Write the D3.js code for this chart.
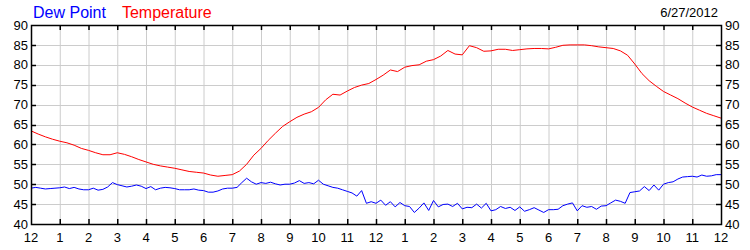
<!DOCTYPE html>
<html>
  <head>
    <meta charset="utf-8" />
    <title>Dew Point / Temperature</title>
    <style>
      body {
        margin: 0;
        background: #fff;
      }
      svg text {
        font-family: "Liberation Sans", Arial, sans-serif;
      }
    </style>
    <script src="https://d3js.org/d3.v7.min.js"></script>
  </head>
  <body>
    <div id="chart"></div>
    <script>
      // hour labels along the bottom, midnight to midnight
      var hourLabels = ["12","1","2","3","4","5","6","7","8","9","10","11","12","1","2","3","4","5","6","7","8","9","10","11","12"];
      var yTicks = [40, 45, 50, 55, 60, 65, 70, 75, 80, 85, 90];
      var dateLabel = "6/27/2012";

      // temperature, one reading every 15 minutes (hours 0..24)
      var tempValues = [
        63.4, 62.6, 61.9, 61.3, 60.8, 60.4, 59.8, 59.0,
        58.5, 57.9, 57.4, 57.4, 57.9, 57.5, 56.9, 56.2,
        55.6, 55.0, 54.6, 54.3, 54.0, 53.6, 53.2, 53.0,
        52.8, 52.3, 52.0, 52.2, 52.4, 53.3, 55.0, 57.3,
        59.0, 61.0, 62.8, 64.5, 65.7, 66.8, 67.6, 68.2,
        69.3, 71.2, 72.6, 72.4, 73.4, 74.3, 74.9, 75.3,
        76.3, 77.4, 78.7, 78.3, 79.4, 79.8, 80.0, 80.9,
        81.3, 82.2, 83.6, 82.7, 82.5, 84.8, 84.3, 83.4,
        83.5, 83.9, 83.9, 83.6, 83.8, 84.0, 84.1, 84.1,
        84.0, 84.4, 84.9, 85.0, 85.0, 85.0, 84.8, 84.5,
        84.3, 84.1, 83.5, 82.4, 80.2, 77.8, 76.0, 74.6,
        73.3, 72.4, 71.5, 70.4, 69.4, 68.6, 67.8, 67.2,
        66.6
      ];

      // dew point, one reading every 10 minutes (hours 0..24)
      var dewValues = [
        49.0, 49.2, 49.0, 48.8, 48.9, 49.0,
        49.1, 49.3, 48.9, 49.2, 48.8, 48.6,
        48.6, 49.0, 48.5, 48.7, 49.3, 50.4,
        49.9, 49.6, 49.3, 49.5, 49.8, 49.5,
        48.9, 49.4, 48.6, 49.0, 49.2, 49.1,
        48.9, 48.6, 48.6, 48.6, 48.8, 48.5,
        48.4, 48.0, 48.0, 48.3, 48.8, 49.0,
        49.0, 49.2, 50.4, 51.5, 50.6, 50.0,
        50.4, 50.2, 50.5, 50.1, 49.8, 50.0,
        50.0, 50.3, 50.9, 50.2, 50.4, 50.1,
        51.0, 50.0, 49.6, 49.2, 49.0, 48.6,
        48.2, 47.8, 47.0, 48.4, 45.2, 45.6,
        45.2, 46.0, 44.7, 45.6, 44.3, 45.4,
        44.6, 44.4, 42.9, 44.0, 45.3, 43.4,
        45.9, 44.3, 44.9, 45.0, 44.4, 45.2,
        43.8, 44.2, 44.1, 45.0, 44.0, 45.2,
        43.3, 43.6, 44.4, 43.9, 44.2, 43.4,
        44.3, 43.2, 43.6, 44.1, 43.5, 42.9,
        43.6, 43.6, 43.7, 44.6, 45.0, 45.3,
        43.3, 44.6, 44.2, 44.4, 43.7, 44.5,
        44.6, 45.3, 46.0, 45.7, 45.2, 47.9,
        48.1, 48.3, 49.4, 48.4, 49.8, 48.5,
        50.0, 50.4, 50.6, 51.3, 51.8, 51.9,
        52.0, 51.8, 52.3, 52.0, 52.1, 52.4,
        52.4
      ];

      var width = 750, height = 250;
      var margin = {top: 25, right: 29, bottom: 26, left: 31};
      var plotW = width - margin.left - margin.right;
      var plotH = height - margin.top - margin.bottom;

      var svg = d3.select("#chart").append("svg")
        .attr("width", width)
        .attr("height", height);

      var x = d3.scaleLinear().domain([0, 24]).range([margin.left, margin.left + plotW]);
      var y = d3.scaleLinear().domain([40, 90]).range([margin.top + plotH, margin.top]);

      var hours = d3.range(0, 25);

      // grid
      svg.append("g").selectAll("line.vg")
        .data(hours.slice(1, -1)).enter().append("line")
        .attr("x1", d => x(d) + 0.5).attr("x2", d => x(d) + 0.5)
        .attr("y1", margin.top).attr("y2", margin.top + plotH)
        .attr("stroke", "#cccccc");
      svg.append("g").selectAll("line.hg")
        .data(yTicks.slice(1, -1)).enter().append("line")
        .attr("x1", margin.left).attr("x2", margin.left + plotW)
        .attr("y1", d => Math.round(y(d)) + 0.5).attr("y2", d => Math.round(y(d)) + 0.5)
        .attr("stroke", "#cccccc");

      // series
      var tempLine = d3.line().x((d, i) => x(i / 4)).y(d => y(d));
      var dewLine = d3.line().x((d, i) => x(i / 6)).y(d => y(d));

      svg.append("path").datum(dewValues)
        .attr("d", dewLine).attr("fill", "none")
        .attr("stroke", "#0000ff").attr("stroke-width", 1);
      svg.append("path").datum(tempValues)
        .attr("d", tempLine).attr("fill", "none")
        .attr("stroke", "#ff0000").attr("stroke-width", 1);

      // frame with inward ticks
      svg.append("rect")
        .attr("x", margin.left + 0.5).attr("y", margin.top + 0.5)
        .attr("width", plotW).attr("height", plotH)
        .attr("fill", "none").attr("stroke", "#000").attr("stroke-width", 1.5);

      var tickLen = 5;
      var ticks = svg.append("g").attr("stroke", "#000").attr("stroke-width", 1.5);
      ticks.selectAll("line.tt").data(hours.slice(1, -1)).enter().append("line")
        .attr("x1", d => x(d) + 0.5).attr("x2", d => x(d) + 0.5)
        .attr("y1", margin.top).attr("y2", margin.top + tickLen);
      ticks.selectAll("line.bt").data(hours.slice(1, -1)).enter().append("line")
        .attr("x1", d => x(d) + 0.5).attr("x2", d => x(d) + 0.5)
        .attr("y1", margin.top + plotH).attr("y2", margin.top + plotH - tickLen);
      ticks.selectAll("line.lt").data(yTicks.slice(1, -1)).enter().append("line")
        .attr("x1", margin.left).attr("x2", margin.left + tickLen)
        .attr("y1", d => Math.round(y(d)) + 0.5).attr("y2", d => Math.round(y(d)) + 0.5);
      ticks.selectAll("line.rt").data(yTicks.slice(1, -1)).enter().append("line")
        .attr("x1", margin.left + plotW).attr("x2", margin.left + plotW - tickLen)
        .attr("y1", d => Math.round(y(d)) + 0.5).attr("y2", d => Math.round(y(d)) + 0.5);

      // labels
      var fs = 13;
      svg.append("g").selectAll("text").data(yTicks).enter().append("text")
        .attr("x", margin.left - 3).attr("y", d => y(d)).attr("dy", "0.36em")
        .attr("text-anchor", "end").attr("font-size", fs).attr("fill", "#000")
        .text(d => d);
      svg.append("g").selectAll("text").data(yTicks).enter().append("text")
        .attr("x", margin.left + plotW + 4).attr("y", d => y(d)).attr("dy", "0.36em")
        .attr("text-anchor", "start").attr("font-size", fs).attr("fill", "#000")
        .text(d => d);
      svg.append("g").selectAll("text").data(hourLabels).enter().append("text")
        .attr("x", (d, i) => x(i)).attr("y", margin.top + plotH + 18)
        .attr("text-anchor", "middle").attr("font-size", fs).attr("fill", "#000")
        .text(d => d);

      // legend + date
      var legend = svg.append("text").attr("x", 33).attr("y", 18).attr("font-size", 16);
      legend.append("tspan").attr("fill", "#0000ff").text("Dew Point");
      legend.append("tspan").attr("fill", "#ff0000").attr("dx", 16).text("Temperature");

      svg.append("text")
        .attr("x", 718).attr("y", 17)
        .attr("text-anchor", "end").attr("font-size", fs).attr("fill", "#000")
        .text(dateLabel);
    </script>
  </body>
</html>
